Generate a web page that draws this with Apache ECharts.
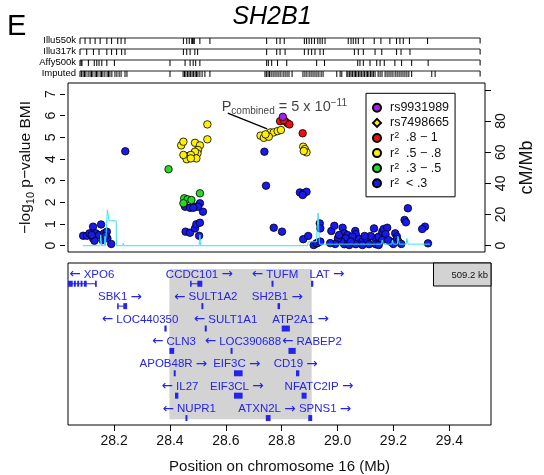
<!doctype html>
<html>
<head>
<meta charset="UTF-8">
<title>SH2B1</title>
<script src="https://cdn.jsdelivr.net/npm/echarts@6/dist/echarts.min.js"></script>
<style>
  html, body { margin: 0; padding: 0; background: #fff; }
  #main { width: 544px; height: 475px; }
</style>
</head>
<body>
<div id="main"></div>
<script>
// ---- data (positions in Mb on chromosome 16) ----
var xRange = [28.035, 29.549];
var xTicks = [28.2, 28.4, 28.6, 28.8, 29.0, 29.2, 29.4];
var pTicks = [0, 1, 2, 3, 4, 5, 6, 7];
var recTicks = [0, 20, 40, 60, 80, 100];
var recLabels = [0, 20, 40, 60, 80];

// genotyping platforms (top tracks)
var trackNames = ['Illu550k', 'Illu317k', 'Affy500k', 'Imputed'];
var trackSpan = [28.078, 29.51];
var illu550k = [28.078, 28.096, 28.114, 28.132, 28.150, 28.174, 28.191, 28.213, 28.225, 28.239,
  28.448, 28.460, 28.469, 28.478, 28.481, 28.483, 28.487, 28.507, 28.543,
  28.746, 28.782, 28.794, 28.809, 28.881, 28.889, 28.898, 28.907, 28.917, 28.929, 28.937, 28.945, 28.955,
  29.038, 29.048, 29.056, 29.065, 29.074, 29.092, 29.131, 29.155, 29.187, 29.211, 29.223, 29.235, 29.257, 29.322];
var illu317k = [28.078, 28.102, 28.126, 28.146, 28.174, 28.191, 28.209, 28.227, 28.239,
  28.448, 28.460, 28.472, 28.489, 28.499,
  28.746, 28.782, 28.794, 28.812, 28.881, 28.895, 28.907, 28.919, 28.937, 28.949,
  29.060, 29.074, 29.092, 29.134, 29.158, 29.211, 29.227, 29.259];
var affy500k = [28.078, 28.082, 28.085, 28.108, 28.129, 28.138, 28.146, 28.156, 28.174, 28.201,
  28.400, 28.454, 28.472, 28.483, 28.492, 28.507,
  28.746, 28.752, 28.764, 28.785, 28.818, 28.925, 28.953,
  29.072, 29.080, 29.092, 29.116, 29.140, 29.152, 29.167, 29.205, 29.229, 29.265, 29.324];
var imputed = [28.078, 28.083, 28.089, 28.094, 28.099, 28.107, 28.114, 28.119, 28.124, 28.132, 28.137,
  28.142, 28.150, 28.155, 28.160, 28.167, 28.175, 28.180, 28.185, 28.192, 28.203, 28.210, 28.218,
  28.225, 28.239, 28.246, 28.400,
  28.447, 28.452, 28.457, 28.463, 28.468, 28.473, 28.479, 28.484, 28.490, 28.495, 28.500, 28.507,
  28.515, 28.525, 28.543,
  28.740, 28.745, 28.751, 28.756, 28.762, 28.769, 28.776, 28.783, 28.790, 28.797, 28.805, 28.812,
  28.819, 28.826, 28.837, 28.876, 28.883, 28.890, 28.898, 28.905, 28.912, 28.919, 28.926, 28.933,
  28.941, 28.948, 28.997, 29.009, 29.015,
  29.033, 29.037, 29.043, 29.048, 29.053, 29.059, 29.064, 29.069, 29.075, 29.080, 29.085, 29.091,
  29.096, 29.102, 29.107, 29.112, 29.118, 29.123, 29.128, 29.134, 29.145, 29.152, 29.159, 29.170,
  29.177, 29.184, 29.191, 29.198, 29.206, 29.213, 29.220, 29.227, 29.234, 29.241, 29.248, 29.255,
  29.265, 29.337, 29.349];
var trackSnps = [illu550k, illu317k, affy500k, imputed];

// association results: position (Mb) and -log10 p, grouped by r2 with rs9931989
var leadPos = [28.815], leadP = [5.95];
var redPos = [28.805, 28.823, 28.832, 28.839, 28.818, 28.887];
var redP = [5.75, 5.75, 5.65, 5.60, 5.80, 5.19];
var yellowPos = [28.446, 28.454, 28.496, 28.541, 28.541, 28.514, 28.507, 28.505, 28.496, 28.460,
  28.472, 28.481, 28.466, 28.501, 28.481, 28.454,
  28.734, 28.746, 28.758, 28.770, 28.782, 28.796, 28.808, 28.764, 28.752, 28.889, 28.895, 28.901, 28.891];
var yellowP = [4.63, 4.80, 4.75, 5.60, 4.91, 4.63, 4.42, 4.26, 4.34, 4.14,
  4.14, 4.19, 3.99, 4.03, 4.03, 4.19,
  5.08, 4.98, 5.11, 5.23, 5.23, 5.29, 5.34, 5.03, 5.14, 4.57, 4.46, 4.31, 4.37];
var greenPos = [28.400, 28.457, 28.469, 28.483, 28.454, 28.514];
var greenP = [3.53, 2.19, 2.14, 2.11, 1.96, 2.42];
var bluePos = [28.090, 28.104, 28.126, 28.155, 28.126, 28.113, 28.136, 28.148, 28.166, 28.176,
  28.160, 28.178, 28.192, 28.131, 28.121, 28.171, 28.243,
  28.460, 28.478, 28.496, 28.514, 28.525, 28.507, 28.490, 28.462, 28.478, 28.496, 28.501, 28.514, 28.511,
  28.748, 28.754, 28.877, 28.891, 28.901, 28.887,
  28.782, 28.812, 28.889, 28.907, 28.927, 28.937, 28.949, 28.951, 28.939, 28.951, 28.991, 29.002,
  29.032, 29.038, 29.050, 29.044, 29.078, 29.080, 29.068, 29.092, 29.104, 29.122, 29.128, 29.146,
  29.152, 29.163, 29.176, 29.181, 29.194, 29.188, 29.176, 29.205, 29.223, 29.229, 29.229, 29.235,
  29.038, 29.056, 29.080, 29.104, 29.152, 29.163, 29.062, 29.027, 29.015, 29.269, 29.257, 29.262,
  29.331, 29.321, 29.342, 29.019, 29.198, 29.216, 29.245, 29.134, 29.112, 29.005, 28.987];
var blueP = [0.46, 0.46, 0.88, 0.98, 0.34, 0.57, 0.57, 0.49, 0.57, 0.65,
  0.26, 0.34, 0.08, 0.23, 0.49, 0.45, 4.36,
  1.80, 1.75, 1.80, 1.96, 1.57, 1.80, 1.75, 0.65, 0.60, 0.80, 0.99, 1.06, 0.46,
  4.34, 2.77, 2.46, 2.42, 2.49, 2.34,
  0.83, 0.65, 0.30, 0.45, 0.03, 0.11, 1.03, 0.80, 0.11, 0.19, 0.68, 0.92,
  0.83, 0.57, 0.49, 0.34, 0.68, 0.53, 0.42, 0.31, 0.19, 0.22, 0.07, 0.80,
  0.34, 0.42, 0.65, 0.77, 0.83, 0.53, 0.26, 0.19, 0.57, 0.42, 0.31, 0.19,
  0.07, 0.03, 0.07, 0.03, 0.07, 0.03, 0.19, 0.19, 0.34, 1.73, 1.19, 1.08,
  0.88, 0.77, 0.11, 0.49, 0.26, 0.08, 0.08, 0.45, 0.45, 0.08, 0.12];

// recombination rate (cM/Mb)
var recombPos = [28.089, 28.151, 28.154, 28.157, 28.167, 28.169, 28.171, 28.177, 28.178, 28.184,
  28.210, 28.211, 28.234, 28.235, 28.239, 28.511, 28.514, 28.516, 28.905, 28.907, 28.937, 28.943,
  28.948, 29.173, 29.176, 29.180, 29.211, 29.213, 29.216, 29.231, 29.233, 29.238, 29.263, 29.265,
  29.270, 29.349];
var recombRate = [0, 0, 7, 0, 0, 6, 0, 0, 23, 16,
  16, 0, 0, 1.5, 0, 0, 7, 0, 0, 2.5, 2.5, 21,
  1, 1, 3.7, 1, 1, 3.7, 1, 1, 6, 1, 1, 4.7,
  1, 1];

// annotation
var annotText = [28.593, 6.41];
var annotLineX = [28.615, 28.758];
var annotLineY = [6.12, 5.39];

// genes
var geneNames = ['XPO6', 'CCDC101', 'TUFM', 'LAT', 'SBK1', 'SULT1A2', 'SH2B1', 'LOC440350', 'SULT1A1',
  'ATP2A1', 'CLN3', 'LOC390688', 'RABEP2', 'APOB48R', 'EIF3C', 'CD19', 'IL27', 'EIF3CL', 'NFATC2IP',
  'NUPR1', 'ATXN2L', 'SPNS1'];
var geneStrand = [-1, 1, -1, 1, 1, -1, 1, -1, -1, 1, -1, -1, -1, 1, 1, 1, -1, 1, 1, -1, 1, 1];
var geneRow = [1, 1, 1, 1, 2, 2, 2, 3, 3, 3, 4, 4, 4, 5, 5, 5, 6, 6, 6, 7, 7, 7];
var geneStart = [28.017, 28.472, 28.764, 28.905, 28.211, 28.513, 28.785, 28.380, 28.525, 28.800,
  28.398, 28.618, 28.824, 28.414, 28.629, 28.851, 28.418, 28.629, 28.871, 28.456, 28.743, 28.895];
var geneEnd = [28.135, 28.514, 28.770, 28.913, 28.245, 28.519, 28.794, 28.388, 28.531, 28.829,
  28.415, 28.623, 28.850, 28.420, 28.660, 28.863, 28.430, 28.660, 28.889, 28.462, 28.760, 28.909];
var geneExons = [
  [[28.017, 28.052], [28.056, 28.063], [28.068, 28.075], [28.080, 28.087], [28.092, 28.102], [28.132, 28.135]],
  [[28.472, 28.474], [28.498, 28.514]], null, null,
  [[28.211, 28.213], [28.233, 28.245]],
  null, null, null, null, null, null, null, null, null, null, null, null, null, null, null, null, null];
var geneLabelMb = [28.120, 28.505, 28.776, 28.962, 28.221, 28.528, 28.784, 28.293, 28.599,
  28.867, 28.414, 28.661, 28.908, 28.412, 28.639, 28.850, 28.436, 28.639, 28.933,
  28.469, 28.747, 28.955];
var regionStart = 28.398, regionEnd = 28.9072;

// ---- chart ----
var font = '"Liberation Sans", Arial, sans-serif';
var geneColor = '#2424EE';

function pairs(a, b) { return a.map(function (v, i) { return [v, b[i]]; }); }

var trackTickData = [];
trackSnps.forEach(function (arr, r) { arr.forEach(function (p) { trackTickData.push([p, r]); }); });

function snpSeries(name, pos, p, color, symbol) {
  return {
    name: name, type: 'scatter', xAxisIndex: 1, yAxisIndex: 1,
    data: pairs(pos, p), symbol: symbol || 'circle', symbolSize: 7.5,
    itemStyle: { color: color, borderColor: '#000', borderWidth: 0.8, opacity: 1 },
    emphasis: { disabled: true }, z: 3
  };
}

var myChart = echarts.init(document.getElementById('main'));

var option = {
  animation: false,
  textStyle: { fontFamily: font },
  title: [
    { text: 'E', left: 2, top: 7, textStyle: { fontSize: 29, fontWeight: 'normal', color: '#000', fontFamily: font } },
    { text: 'SH2B1', left: 'center', top: 0, textStyle: { fontSize: 25, fontStyle: 'italic', fontWeight: 'normal', color: '#000', fontFamily: font } }
  ],
  grid: [
    { left: 68, right: 53, top: 35, height: 44, show: false },
    { left: 68, right: 53, top: 83, height: 169, show: true, borderColor: '#000', borderWidth: 1, backgroundColor: 'transparent' },
    { left: 68, right: 53, top: 263, height: 164, show: true, borderColor: '#000', borderWidth: 1, backgroundColor: 'transparent' }
  ],
  xAxis: [
    { gridIndex: 0, type: 'value', min: xRange[0], max: xRange[1], show: false },
    { gridIndex: 1, type: 'value', min: xRange[0], max: xRange[1], show: false },
    {
      gridIndex: 2, type: 'value', min: xRange[0], max: xRange[1],
      axisLine: { show: false }, splitLine: { show: false },
      axisTick: { show: true, length: 6, customValues: xTicks, lineStyle: { color: '#000' } },
      axisLabel: { customValues: xTicks, fontSize: 14, color: '#111', margin: 9, formatter: function (v) { return v.toFixed(1); } },
      name: 'Position on chromosome 16 (Mb)', nameLocation: 'middle', nameGap: 34,
      nameTextStyle: { fontSize: 15, color: '#111' }
    }
  ],
  yAxis: [
    {
      gridIndex: 0, type: 'category', data: trackNames, inverse: true,
      axisLine: { show: false }, axisTick: { show: false }, splitLine: { show: false },
      axisLabel: { fontSize: 9.5, color: '#000', margin: -8, interval: 0 }
    },
    {
      gridIndex: 1, type: 'value', min: -0.29, max: 7.51, offset: 3,
      axisLine: { show: false }, splitLine: { show: false },
      axisTick: { show: true, length: 5, customValues: pTicks, lineStyle: { color: '#000' } },
      axisLabel: { customValues: pTicks, rotate: 90, fontSize: 14, color: '#111', margin: 7 },
      name: '{a|−log}{s|10}{a| p−value BMI}', nameLocation: 'middle', nameGap: 26,
      nameTextStyle: {
        color: '#111', fontSize: 15.5,
        rich: { a: { fontSize: 15.5, lineHeight: 20, color: '#111' }, s: { fontSize: 11, lineHeight: 11, verticalAlign: 'bottom', color: '#111' } }
      }
    },
    {
      gridIndex: 1, type: 'value', position: 'right', min: -4.04, max: 104.4,
      axisLine: { show: false }, splitLine: { show: false },
      axisTick: { show: true, length: 6, customValues: recTicks, lineStyle: { color: '#000' } },
      axisLabel: { customValues: recLabels, rotate: 90, fontSize: 14, color: '#111', margin: 9 },
      name: 'cM/Mb', nameLocation: 'middle', nameGap: 33,
      nameTextStyle: { fontSize: 18, color: '#111' }
    },
    { gridIndex: 2, type: 'value', min: 0.073, max: 7.31, inverse: true, show: false }
  ],
  legend: {
    left: 366, top: 93.3, orient: 'vertical',
    data: ['rs9931989', 'rs7498665', 'r2 .8 − 1', 'r2 .5 − .8', 'r2 .3 − .5', 'r2 < .3'],
    padding: [8, 6, 7, 6], itemGap: 2.1, itemWidth: 8, itemHeight: 8,
    borderColor: '#000', borderWidth: 1, backgroundColor: '#fff',
    selectedMode: false,
    formatter: function (name) {
      var m = /^r2 (.*)$/.exec(name);
      return m ? '{f|r}{s|2}{t|  ' + m[1] + '}' : '{f|' + name + '}';
    },
    textStyle: {
      fontSize: 12.5, color: '#111', lineHeight: 13,
      rich: {
        f: { fontSize: 12.5, lineHeight: 13, color: '#111', padding: [0, 0, 0, 4] },
        t: { fontSize: 12.5, lineHeight: 13, color: '#111' },
        s: { fontSize: 9, lineHeight: 8, verticalAlign: 'top', color: '#111' }
      }
    }
  },
  series: [
    // platform tracks
    {
      type: 'custom', xAxisIndex: 0, yAxisIndex: 0, silent: true,
      data: trackNames.map(function (n, i) { return [trackSpan[0], trackSpan[1], i]; }),
      renderItem: function (params, api) {
        var a = api.coord([api.value(0), api.value(2)]);
        var b = api.coord([api.value(1), api.value(2)]);
        return {
          type: 'group', children: [
            { type: 'line', shape: { x1: a[0], y1: a[1] - 2.5, x2: b[0], y2: b[1] - 2.5 }, style: { stroke: '#222', lineWidth: 1 } },
            { type: 'rect', shape: { x: b[0] - 0.5, y: b[1] - 2.5, width: 1, height: 5.5 }, style: { fill: '#000' } }
          ]
        };
      }
    },
    {
      type: 'custom', xAxisIndex: 0, yAxisIndex: 0, silent: true,
      data: trackTickData,
      renderItem: function (params, api) {
        var p = api.coord([api.value(0), api.value(1)]);
        return { type: 'rect', shape: { x: p[0] - 0.5, y: p[1] - 2.5, width: 1, height: 6 }, style: { fill: '#000' } };
      }
    },
    // association
    snpSeries('r2 < .3', bluePos, blueP, '#1818F0'),
    snpSeries('r2 .3 − .5', greenPos, greenP, '#28D828'),
    snpSeries('r2 .5 − .8', yellowPos, yellowP, '#FFF000'),
    snpSeries('r2 .8 − 1', redPos, redP, '#EE1010'),
    snpSeries('rs7498665', [], [], '#FFF000', 'diamond'),
    snpSeries('rs9931989', leadPos, leadP, '#A020F0'),
    {
      type: 'line', xAxisIndex: 1, yAxisIndex: 2, data: pairs(recombPos, recombRate),
      showSymbol: false, symbol: 'none', silent: true, z: 4,
      lineStyle: { color: '#38E2F4', width: 1 }
    },
    {
      type: 'line', xAxisIndex: 1, yAxisIndex: 1, data: pairs(annotLineX, annotLineY),
      showSymbol: false, symbol: 'none', silent: true, z: 5,
      lineStyle: { color: '#000', width: 1.4 }
    },
    {
      type: 'scatter', xAxisIndex: 1, yAxisIndex: 1, data: [annotText], symbolSize: 0, silent: true, z: 6,
      label: {
        show: true, position: 'right', distance: 0,
        formatter: '{p|P}{b|combined}{e| = 5 x 10}{u|−11}',
        rich: {
          p: { fontSize: 14.5, lineHeight: 18, color: '#111' },
          b: { fontSize: 10, lineHeight: 10, verticalAlign: 'bottom', color: '#111' },
          e: { fontSize: 14.5, lineHeight: 18, color: '#111' },
          u: { fontSize: 10, lineHeight: 8, verticalAlign: 'top', color: '#111' }
        }
      }
    },
    // gene panel: highlighted region
    {
      type: 'custom', xAxisIndex: 2, yAxisIndex: 3, silent: true, z: 1,
      data: [[regionStart, regionEnd]],
      renderItem: function (params, api) {
        var a = api.coord([api.value(0), 0.34]);
        var b = api.coord([api.value(1), 7.05]);
        return { type: 'rect', shape: { x: a[0], y: a[1], width: b[0] - a[0], height: b[1] - a[1] }, style: { fill: '#D3D3D3' } };
      }
    },
    // genes
    {
      type: 'custom', xAxisIndex: 2, yAxisIndex: 3, silent: true, z: 2, clip: true,
      data: geneNames.map(function (n, i) { return [geneStart[i], geneEnd[i], geneRow[i]]; }),
      renderItem: function (params, api) {
        var i = params.dataIndex;
        var row = geneRow[i];
        var s = api.coord([geneStart[i], row]);
        var e = api.coord([geneEnd[i], row]);
        var lab = api.coord([geneLabelMb[i], row]);
        var kids = [];
        var ex = geneExons[i];
        if (ex) {
          kids.push({ type: 'line', shape: { x1: s[0], y1: s[1], x2: e[0], y2: e[1] }, style: { stroke: geneColor, lineWidth: 1 } });
          kids.push({ type: 'line', shape: { x1: e[0], y1: e[1] - 3, x2: e[0], y2: e[1] + 3 }, style: { stroke: geneColor, lineWidth: 1 } });
          ex.forEach(function (b) {
            var a1 = api.coord([b[0], row]), a2 = api.coord([b[1], row]);
            kids.push({ type: 'rect', shape: { x: a1[0], y: a1[1] - 3, width: Math.max(a2[0] - a1[0], 1.5), height: 6 }, style: { fill: geneColor } });
          });
        } else {
          var w = Math.max(e[0] - s[0], 2);
          kids.push({ type: 'rect', shape: { x: (s[0] + e[0]) / 2 - w / 2, y: s[1] - 3, width: w, height: 6 }, style: { fill: geneColor } });
        }
        var txt = geneStrand[i] > 0 ? '{n|' + geneNames[i] + ' }{a|\u2192}' : '{a|\u2190}{n| ' + geneNames[i] + '}';
        kids.push({
          type: 'text', x: lab[0], y: lab[1] - 9,
          style: {
            text: txt, fill: geneColor, fontSize: 11.5, fontFamily: font, align: 'center', verticalAlign: 'middle',
            rich: {
              n: { fontSize: 11.5, fontFamily: font, fill: geneColor, lineHeight: 14 },
              a: { fontSize: 13.5, fontFamily: '"DejaVu Sans"', fill: geneColor, lineHeight: 14 }
            }
          }
        });
        return { type: 'group', children: kids };
      }
    }
  ],
  graphic: [
    { type: 'rect', shape: { x: 433.5, y: 263, width: 57.5, height: 23 }, style: { fill: '#D3D3D3', stroke: '#000', lineWidth: 1 }, z: 10 },
    {
      type: 'text', x: 488, y: 275, z: 11,
      style: { text: ((regionEnd - regionStart) * 1000).toFixed(1) + ' kb', fontSize: 9.5, fontFamily: font, fill: '#111', align: 'right', verticalAlign: 'middle' }
    }
  ]
};

myChart.setOption(option);
</script>
</body>
</html>
